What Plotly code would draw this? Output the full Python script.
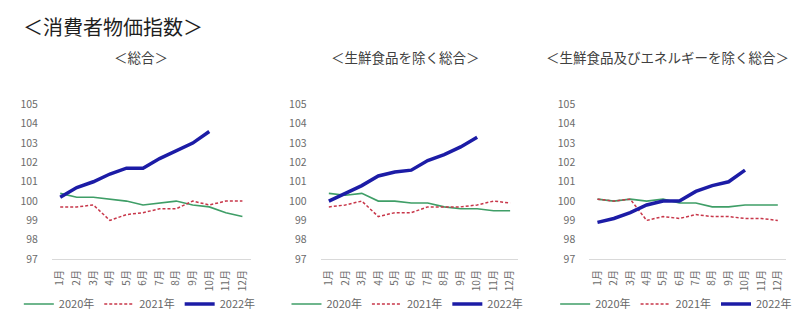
import plotly.graph_objects as go

W, H = 800, 331
FONT = "Noto Sans CJK JP"

months = ["1月", "2月", "3月", "4月", "5月", "6月", "7月", "8月", "9月", "10月", "11月", "12月"]
years = ["2020年", "2021年", "2022年"]

main_title = "＜消費者物価指数＞"
panel_titles = ["＜総合＞", "＜生鮮食品を除く総合＞", "＜生鮮食品及びエネルギーを除く総合＞"]

# 総合
total_2020 = [100.4, 100.2, 100.2, 100.1, 100.0, 99.8, 99.9, 100.0, 99.8, 99.7, 99.4, 99.2]
total_2021 = [99.7, 99.7, 99.8, 99.0, 99.3, 99.4, 99.6, 99.6, 100.0, 99.8, 100.0, 100.0]
total_2022 = [100.2, 100.7, 101.0, 101.4, 101.7, 101.7, 102.2, 102.6, 103.0, 103.6]

# 生鮮食品を除く総合
core_2020 = [100.4, 100.3, 100.4, 100.0, 100.0, 99.9, 99.9, 99.7, 99.6, 99.6, 99.5, 99.5]
core_2021 = [99.7, 99.8, 100.0, 99.2, 99.4, 99.4, 99.7, 99.7, 99.7, 99.8, 100.0, 99.9]
core_2022 = [100.0, 100.4, 100.8, 101.3, 101.5, 101.6, 102.1, 102.4, 102.8, 103.3]

# 生鮮食品及びエネルギーを除く総合
corecore_2020 = [100.1, 100.0, 100.1, 100.0, 100.1, 99.9, 99.9, 99.7, 99.7, 99.8, 99.8, 99.8]
corecore_2021 = [100.1, 100.0, 100.1, 99.0, 99.2, 99.1, 99.3, 99.2, 99.2, 99.1, 99.1, 99.0]
corecore_2022 = [98.9, 99.1, 99.4, 99.8, 100.0, 100.0, 100.5, 100.8, 101.0, 101.6]

y_ticks = [97, 98, 99, 100, 101, 102, 103, 104, 105]

panels = [
    (total_2020, total_2021, total_2022),
    (core_2020, core_2021, core_2022),
    (corecore_2020, corecore_2021, corecore_2022),
]

# layout geometry (pixels)
x_domains_px = [(51, 250), (320, 518), (589, 786)]
y_domain_px = (101, 263)
title_centers_px = [140, 405, 667]
legend_centers_px = [139, 407, 676]

styles = [
    dict(color="#3f9e67", width=1.6),
    dict(color="#c8374a", width=1.5, dash="3px,2px"),
    dict(color="#1c1ca6", width=3.5),
]

fig = go.Figure()
layout = dict(
    width=W, height=H,
    margin=dict(l=0, r=0, t=0, b=0),
    paper_bgcolor="white", plot_bgcolor="white",
    font=dict(family=FONT, color="#666666", size=10),
    hovermode=False,
    annotations=[],
)

for i, series in enumerate(panels):
    n = "" if i == 0 else str(i + 1)
    xa, ya = "x" + n, "y" + n
    lg = "legend" + n
    for name, vals, st in zip(years, series, styles):
        fig.add_trace(go.Scatter(
            x=months[:len(vals)], y=vals, name=name, mode="lines",
            line=st, xaxis=xa, yaxis=ya, legend=lg,
        ))
    x0, x1 = x_domains_px[i]
    layout["xaxis" + n] = dict(
        domain=[x0 / W, x1 / W], anchor=ya,
        type="category", categoryorder="array", categoryarray=months,
        range=[-0.5, 11.5], tickangle=-90, showgrid=False, zeroline=False,
        showline=True, linecolor="#d9d9d9", linewidth=1, ticks="",
        tickfont=dict(size=10, color="#6b6b6b", family=FONT),
        ticklabelstandoff=6, fixedrange=True,
    )
    layout["yaxis" + n] = dict(
        domain=[1 - y_domain_px[1] / H, 1 - y_domain_px[0] / H], anchor=xa,
        range=[97, 105], tickvals=y_ticks, showgrid=False, zeroline=False,
        showline=False, ticks="",
        tickfont=dict(size=10.5, color="#6b6b6b", family=FONT),
        ticklabelstandoff=13, fixedrange=True,
    )
    layout[lg] = dict(
        orientation="h", x=legend_centers_px[i] / W, xanchor="center",
        y=1 - 310 / H, yanchor="middle",
        font=dict(size=11, color="#666666", family=FONT),
        bgcolor="rgba(0,0,0,0)", itemwidth=30, tracegroupgap=0,
    )
    layout["annotations"].append(dict(
        text=panel_titles[i], x=title_centers_px[i] / W, y=1 - 51 / H,
        xref="paper", yref="paper", xanchor="center", yanchor="middle",
        showarrow=False, font=dict(size=13.5, color="#404040", family=FONT),
    ))

layout["annotations"].append(dict(
    text=main_title, x=20 / W, y=1 - 19 / H, xref="paper", yref="paper",
    xanchor="left", yanchor="middle", showarrow=False,
    font=dict(size=20, color="#1f1f1f", family=FONT),
))

fig.update_layout(**layout)
fig.write_html("out.html")
